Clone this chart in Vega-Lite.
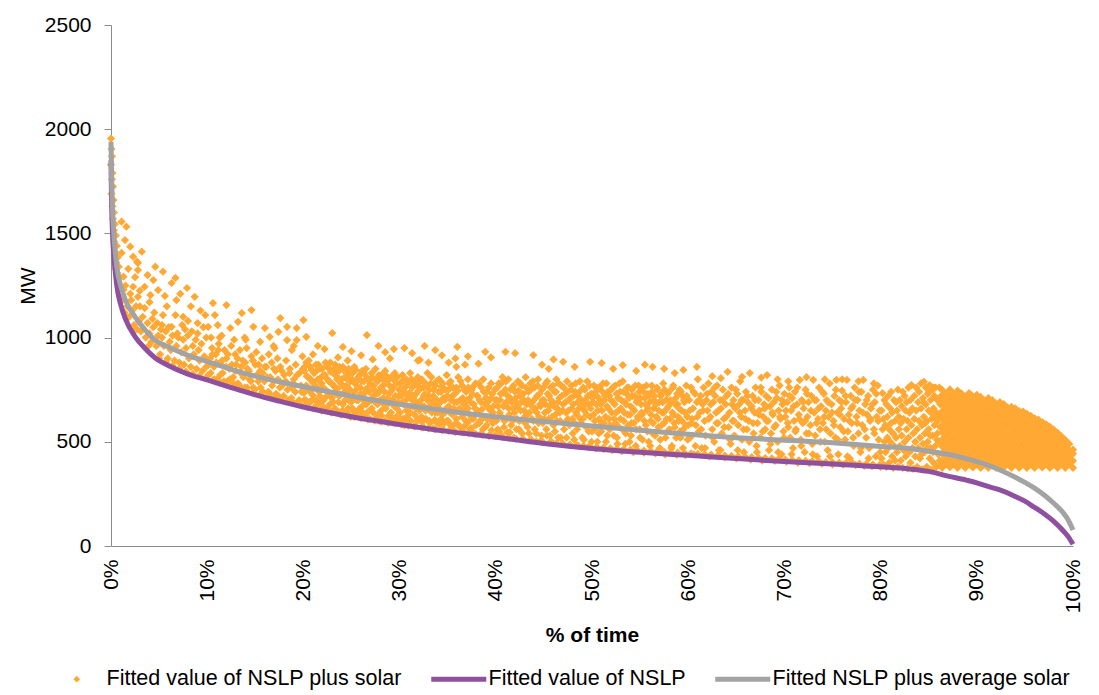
{
"$schema":"https://vega.github.io/schema/vega-lite/v6.json",
"width":962,"height":521,
"autosize":{"type":"none"},
"padding":{"left":111,"top":25,"right":26,"bottom":149},
"config":{"font":"Liberation Sans","view":{"stroke":null},
 "axis":{"domainColor":"#8c8c8c","tickColor":"#8c8c8c","labelColor":"#000","titleColor":"#000","labelFontSize":21,"titleFontSize":21,"grid":false,"labelFont":"Liberation Sans","titleFont":"Liberation Sans"}},
"datasets":{
"pts":[
{"t":0,"v":1955},{"t":0.05,"v":1905},{"t":0.1,"v":1870},{"t":0,"v":1830},{"t":0.15,"v":1790},{"t":0.1,"v":1760},{"t":0.2,"v":1725},{"t":0.05,"v":1690},{"t":0.25,"v":1660},{"t":0.15,"v":1630},{"t":0.3,"v":1600},{"t":0.2,"v":1570},{"t":0.4,"v":1545},{"t":0.3,"v":1515},{"t":0.5,"v":1490},{"t":0.35,"v":1460},{"t":0.6,"v":1440},{"t":0.45,"v":1410},{"t":0.7,"v":1385},{"t":0.55,"v":1360},{"t":0.8,"v":1340},{"t":0.65,"v":1310},{"t":0.9,"v":1290},{"t":0.75,"v":1265},{"t":0.95,"v":1240},{"t":0.85,"v":1215},{"t":0.5,"v":1330},{"t":0.7,"v":1280},{"t":0.9,"v":1200},{"t":1.0,"v":1180},
{"t":1.1,"v":1556},{"t":1.6,"v":1532},{"t":1.45,"v":1468},{"t":2.0,"v":1436},{"t":3.2,"v":1412},{"t":2.3,"v":1388},{"t":2.8,"v":1358},{"t":4.6,"v":1340},{"t":1.1,"v":1406},{"t":1.3,"v":1292},{"t":2.7,"v":1364},{"t":2.8,"v":1324},{"t":5.4,"v":1316},{"t":4.4,"v":1276},{"t":2.3,"v":1244},{"t":3.5,"v":1244},{"t":4.9,"v":1228},{"t":2.8,"v":1196},{"t":4.1,"v":1204},{"t":3.5,"v":1142},{"t":1.8,"v":1330},{"t":3.8,"v":1300},{"t":1.5,"v":1250},{"t":2.5,"v":1290},{"t":4.0,"v":1170},{"t":3.0,"v":1225},{"t":4.5,"v":1120},{"t":2.0,"v":1210},
{"t":1.2,"v":1180},{"t":1.4,"v":1120},{"t":1.7,"v":1150},{"t":1.9,"v":1100},{"t":2.2,"v":1130},{"t":2.4,"v":1060},{"t":2.6,"v":1150},{"t":2.9,"v":1080},{"t":3.1,"v":1030},{"t":3.3,"v":1100},{"t":3.6,"v":1000},{"t":3.8,"v":1070},{"t":4.0,"v":1020},{"t":4.2,"v":980},{"t":4.4,"v":1050},{"t":4.7,"v":960},{"t":4.9,"v":1010},{"t":1.3,"v":1230},{"t":2.1,"v":1180},{"t":3.0,"v":1150},{"t":4.3,"v":1090},{"t":4.8,"v":1070},{"t":2.7,"v":1040},{"t":3.9,"v":960},{"t":1.6,"v":1100},{"t":2.3,"v":1030},
{"t":6.7,"v":1286},{"t":6.3,"v":1262},{"t":7.9,"v":1238},{"t":6.8,"v":1180},{"t":8.7,"v":1196},{"t":5.4,"v":1108},{"t":6.7,"v":1108},{"t":7.5,"v":1100},{"t":9.8,"v":1108},{"t":5.3,"v":1060},{"t":6.3,"v":1052},{"t":5.8,"v":1150},{"t":7.2,"v":1210},{"t":8.3,"v":1150},{"t":9.3,"v":1130},{"t":9.0,"v":1070},{"t":8.0,"v":1080},{"t":5.6,"v":1200},{"t":9.6,"v":1050},{"t":7.7,"v":1040},
{"t":5.1,"v":920},{"t":5.3,"v":1000},{"t":5.5,"v":960},{"t":5.7,"v":1030},{"t":5.9,"v":900},{"t":6.1,"v":980},{"t":6.2,"v":940},{"t":6.4,"v":1010},{"t":6.6,"v":890},{"t":6.8,"v":960},{"t":7.0,"v":1000},{"t":7.1,"v":880},{"t":7.3,"v":930},{"t":7.5,"v":990},{"t":7.6,"v":870},{"t":7.8,"v":950},{"t":8.0,"v":1010},{"t":8.1,"v":900},{"t":8.3,"v":860},{"t":8.5,"v":960},{"t":8.6,"v":920},{"t":8.8,"v":990},{"t":8.9,"v":850},{"t":9.1,"v":940},{"t":9.2,"v":890},{"t":9.4,"v":970},{"t":9.5,"v":840},{"t":9.7,"v":910},{"t":9.9,"v":1000},{"t":9.9,"v":860},{"t":6.0,"v":1050},{"t":7.4,"v":1060},{"t":8.4,"v":1030},{"t":9.0,"v":1020},{"t":5.2,"v":1040},{"t":6.9,"v":1020},
{"t":5.0,"v":900},{"t":5.7,"v":883},{"t":6.4,"v":865},{"t":7.1,"v":851},{"t":7.8,"v":837},{"t":8.5,"v":826},{"t":9.2,"v":816},{"t":9.9,"v":806},{"t":10.6,"v":796},{"t":11.3,"v":787},{"t":12.0,"v":775},{"t":12.7,"v":765},{"t":13.4,"v":755},{"t":14.1,"v":745},{"t":14.8,"v":736},{"t":15.5,"v":727},{"t":16.2,"v":719},{"t":16.9,"v":710},{"t":17.6,"v":702},{"t":18.3,"v":694},{"t":19.0,"v":686},{"t":19.7,"v":678},
{"t":10.6,"v":1166},{"t":12.0,"v":1156},{"t":13.6,"v":1118},{"t":14.6,"v":1132},{"t":17.6,"v":1094},{"t":10.8,"v":1108},{"t":10.1,"v":1052},{"t":11.1,"v":1060},{"t":12.4,"v":1046},{"t":13.2,"v":1076},{"t":14.8,"v":1052},{"t":16.0,"v":1046},{"t":17.4,"v":1028},{"t":19.3,"v":1046},{"t":18.3,"v":1052},{"t":16.5,"v":1004},{"t":19.3,"v":988},{"t":18.3,"v":988},{"t":20.0,"v":1084},{"t":11.5,"v":1010},{"t":12.8,"v":990},{"t":15.5,"v":980},{"t":13.9,"v":1000},{"t":16.9,"v":960},{"t":18.8,"v":940},{"t":10.4,"v":1000},
{"t":10.1,"v":820},{"t":10.3,"v":900},{"t":10.5,"v":950},{"t":10.7,"v":860},{"t":10.9,"v":920},{"t":11.0,"v":800},{"t":11.2,"v":970},{"t":11.4,"v":880},{"t":11.6,"v":830},{"t":11.8,"v":940},{"t":12.0,"v":900},{"t":12.1,"v":790},{"t":12.3,"v":850},{"t":12.5,"v":960},{"t":12.7,"v":810},{"t":12.9,"v":920},{"t":13.0,"v":870},{"t":13.2,"v":780},{"t":13.4,"v":940},{"t":13.5,"v":830},{"t":13.7,"v":890},{"t":13.9,"v":760},{"t":14.1,"v":950},{"t":14.2,"v":850},{"t":14.4,"v":800},{"t":14.6,"v":910},{"t":14.8,"v":760},{"t":15.0,"v":870},{"t":15.1,"v":930},{"t":15.3,"v":790},{"t":15.5,"v":840},{"t":15.7,"v":900},{"t":15.8,"v":740},{"t":16.0,"v":860},{"t":16.2,"v":810},{"t":16.4,"v":920},{"t":16.5,"v":730},{"t":16.7,"v":880},{"t":16.9,"v":790},{"t":17.1,"v":840},{"t":17.3,"v":900},{"t":17.4,"v":720},{"t":17.6,"v":860},{"t":17.8,"v":770},{"t":18.0,"v":820},{"t":18.2,"v":890},{"t":18.4,"v":700},{"t":18.6,"v":850},{"t":18.8,"v":760},{"t":19.0,"v":800},{"t":19.2,"v":870},{"t":19.4,"v":690},{"t":19.6,"v":830},{"t":19.8,"v":740},{"t":19.9,"v":910},{"t":11.3,"v":1000},{"t":14.0,"v":990},{"t":17.0,"v":950},{"t":19.0,"v":960},
{"t":10.15,"v":870},{"t":10.35,"v":830},{"t":10.55,"v":920},{"t":10.75,"v":800},{"t":10.95,"v":880},{"t":11.15,"v":940},{"t":11.35,"v":820},{"t":11.55,"v":890},{"t":11.75,"v":790},{"t":11.95,"v":860},{"t":12.15,"v":920},{"t":12.35,"v":800},{"t":12.55,"v":870},{"t":12.75,"v":780},{"t":12.95,"v":840},{"t":13.15,"v":900},{"t":13.35,"v":770},{"t":13.55,"v":860},{"t":13.75,"v":810},{"t":13.95,"v":880},{"t":14.15,"v":760},{"t":14.35,"v":840},{"t":14.55,"v":790},{"t":14.75,"v":890},{"t":14.95,"v":750},{"t":15.15,"v":820},{"t":15.35,"v":870},{"t":15.55,"v":760},{"t":15.75,"v":830},{"t":15.95,"v":790},{"t":16.15,"v":860},{"t":16.35,"v":740},{"t":16.55,"v":810},{"t":16.75,"v":770},{"t":16.95,"v":850},{"t":17.15,"v":730},{"t":17.35,"v":800},{"t":17.55,"v":760},{"t":17.75,"v":840},{"t":17.95,"v":720},{"t":18.15,"v":790},{"t":18.35,"v":750},{"t":18.55,"v":830},{"t":18.75,"v":710},{"t":18.95,"v":780},{"t":19.15,"v":740},{"t":19.35,"v":820},{"t":19.55,"v":700},{"t":19.75,"v":770},{"t":19.95,"v":850},
{"t":20.3,"v":1004},{"t":23.0,"v":1022},{"t":26.6,"v":1012},{"t":21.5,"v":960},{"t":22.2,"v":945},{"t":24.1,"v":955},{"t":25.0,"v":935},{"t":27.8,"v":960},{"t":28.5,"v":930},{"t":29.4,"v":945},{"t":21.0,"v":920},{"t":23.6,"v":905},{"t":26.0,"v":915},{"t":27.2,"v":895},{"t":29.0,"v":900},{"t":24.6,"v":890},{"t":22.8,"v":880},
{"t":20.1,"v":700},{"t":20.1,"v":840},{"t":20.3,"v":770},{"t":20.3,"v":880},{"t":20.5,"v":680},{"t":20.5,"v":810},{"t":20.7,"v":740},{"t":20.7,"v":860},{"t":20.9,"v":790},{"t":20.9,"v":700},{"t":21.1,"v":830},{"t":21.1,"v":660},{"t":21.3,"v":760},{"t":21.3,"v":870},{"t":21.5,"v":690},{"t":21.5,"v":800},{"t":21.7,"v":850},{"t":21.7,"v":720},{"t":21.9,"v":650},{"t":21.9,"v":780},{"t":22.1,"v":820},{"t":22.1,"v":700},{"t":22.3,"v":750},{"t":22.3,"v":880},{"t":22.5,"v":660},{"t":22.5,"v":800},{"t":22.7,"v":730},{"t":22.7,"v":850},{"t":22.9,"v":780},{"t":22.9,"v":640},{"t":23.1,"v":690},{"t":23.1,"v":830},{"t":23.3,"v":760},{"t":23.3,"v":870},{"t":23.5,"v":650},{"t":23.5,"v":800},{"t":23.7,"v":720},{"t":23.7,"v":840},{"t":23.9,"v":780},{"t":23.9,"v":630},{"t":24.1,"v":680},{"t":24.1,"v":860},{"t":24.3,"v":740},{"t":24.3,"v":810},{"t":24.5,"v":640},{"t":24.5,"v":770},{"t":24.7,"v":700},{"t":24.7,"v":850},{"t":24.9,"v":790},{"t":24.9,"v":620},{"t":25.1,"v":660},{"t":25.1,"v":830},{"t":25.3,"v":740},{"t":25.3,"v":860},{"t":25.5,"v":630},{"t":25.5,"v":790},{"t":25.7,"v":700},{"t":25.7,"v":810},{"t":25.9,"v":760},{"t":25.9,"v":620},{"t":26.1,"v":670},{"t":26.1,"v":840},{"t":26.3,"v":730},{"t":26.3,"v":790},{"t":26.5,"v":620},{"t":26.5,"v":850},{"t":26.7,"v":690},{"t":26.7,"v":760},{"t":26.9,"v":800},{"t":26.9,"v":610},{"t":27.1,"v":660},{"t":27.1,"v":830},{"t":27.3,"v":720},{"t":27.3,"v":770},{"t":27.5,"v":610},{"t":27.5,"v":850},{"t":27.7,"v":680},{"t":27.7,"v":790},{"t":27.9,"v":740},{"t":27.9,"v":600},{"t":28.1,"v":650},{"t":28.1,"v":820},{"t":28.3,"v":710},{"t":28.3,"v":770},{"t":28.5,"v":600},{"t":28.5,"v":840},{"t":28.7,"v":680},{"t":28.7,"v":790},{"t":28.9,"v":730},{"t":28.9,"v":595},{"t":29.1,"v":640},{"t":29.1,"v":810},{"t":29.3,"v":700},{"t":29.3,"v":760},{"t":29.5,"v":590},{"t":29.5,"v":830},{"t":29.7,"v":660},{"t":29.7,"v":780},{"t":29.9,"v":720},{"t":29.9,"v":600},
{"t":20.05,"v":735},{"t":20.15,"v":860},{"t":20.25,"v":700},{"t":20.35,"v":815},{"t":20.45,"v":755},{"t":20.55,"v":890},{"t":20.65,"v":690},{"t":20.75,"v":800},{"t":20.85,"v":845},{"t":20.95,"v":725},{"t":21.05,"v":780},{"t":21.15,"v":705},{"t":21.25,"v":835},{"t":21.35,"v":675},{"t":21.45,"v":760},{"t":21.55,"v":870},{"t":21.65,"v":740},{"t":21.75,"v":805},{"t":21.85,"v":690},{"t":21.95,"v":850},{"t":22.05,"v":760},{"t":22.15,"v":665},{"t":22.25,"v":820},{"t":22.35,"v":715},{"t":22.45,"v":865},{"t":22.55,"v":740},{"t":22.65,"v":790},{"t":22.75,"v":680},{"t":22.85,"v":835},{"t":22.95,"v":710},{"t":23.05,"v":775},{"t":23.15,"v":850},{"t":23.25,"v":660},{"t":23.35,"v":730},{"t":23.45,"v":815},{"t":23.55,"v":755},{"t":23.65,"v":690},{"t":23.75,"v":860},{"t":23.85,"v":725},{"t":23.95,"v":800},{"t":24.05,"v":650},{"t":24.15,"v":765},{"t":24.25,"v":840},{"t":24.35,"v":700},{"t":24.45,"v":805},{"t":24.55,"v":735},{"t":24.65,"v":660},{"t":24.75,"v":825},{"t":24.85,"v":750},{"t":24.95,"v":690},{"t":25.05,"v":800},{"t":25.15,"v":715},{"t":25.25,"v":645},{"t":25.35,"v":780},{"t":25.45,"v":845},{"t":25.55,"v":700},{"t":25.65,"v":760},{"t":25.75,"v":655},{"t":25.85,"v":820},{"t":25.95,"v":730},{"t":26.05,"v":790},{"t":26.15,"v":640},{"t":26.25,"v":700},{"t":26.35,"v":825},{"t":26.45,"v":750},{"t":26.55,"v":680},{"t":26.65,"v":805},{"t":26.75,"v":645},{"t":26.85,"v":740},{"t":26.95,"v":780},{"t":27.05,"v":700},{"t":27.15,"v":810},{"t":27.25,"v":640},{"t":27.35,"v":750},{"t":27.45,"v":690},{"t":27.55,"v":800},{"t":27.65,"v":730},{"t":27.75,"v":630},{"t":27.85,"v":820},{"t":27.95,"v":700},{"t":28.05,"v":760},{"t":28.15,"v":625},{"t":28.25,"v":800},{"t":28.35,"v":680},{"t":28.45,"v":740},{"t":28.55,"v":660},{"t":28.65,"v":815},{"t":28.75,"v":710},{"t":28.85,"v":625},{"t":28.95,"v":770},{"t":29.05,"v":690},{"t":29.15,"v":745},{"t":29.25,"v":615},{"t":29.35,"v":800},{"t":29.45,"v":670},{"t":29.55,"v":720},{"t":29.65,"v":620},{"t":29.75,"v":810},{"t":29.85,"v":690},{"t":29.95,"v":750},
{"t":30.5,"v":950},{"t":31.3,"v":925},{"t":32.6,"v":960},{"t":33.7,"v":940},{"t":34.4,"v":915},{"t":35.8,"v":900},{"t":36.0,"v":956},{"t":37.1,"v":910},{"t":38.9,"v":932},{"t":39.5,"v":905},{"t":31.9,"v":890},{"t":33.0,"v":880},{"t":35.1,"v":880},{"t":36.8,"v":870},{"t":38.2,"v":875},{"t":32.1,"v":893},{"t":35.9,"v":860},
{"t":30.1,"v":610},{"t":30.1,"v":780},{"t":30.3,"v":690},{"t":30.3,"v":820},{"t":30.5,"v":580},{"t":30.5,"v":740},{"t":30.7,"v":650},{"t":30.7,"v":800},{"t":30.9,"v":720},{"t":30.9,"v":600},{"t":31.1,"v":640},{"t":31.1,"v":830},{"t":31.3,"v":700},{"t":31.3,"v":760},{"t":31.5,"v":575},{"t":31.5,"v":790},{"t":31.7,"v":660},{"t":31.7,"v":730},{"t":31.9,"v":810},{"t":31.9,"v":610},{"t":32.1,"v":680},{"t":32.1,"v":760},{"t":32.3,"v":620},{"t":32.3,"v":800},{"t":32.5,"v":570},{"t":32.5,"v":720},{"t":32.7,"v":650},{"t":32.7,"v":780},{"t":32.9,"v":700},{"t":32.9,"v":830},{"t":33.1,"v":600},{"t":33.1,"v":750},{"t":33.3,"v":680},{"t":33.3,"v":810},{"t":33.5,"v":565},{"t":33.5,"v":720},{"t":33.7,"v":640},{"t":33.7,"v":770},{"t":33.9,"v":700},{"t":33.9,"v":590},{"t":34.1,"v":660},{"t":34.1,"v":800},{"t":34.3,"v":610},{"t":34.3,"v":740},{"t":34.5,"v":560},{"t":34.5,"v":780},{"t":34.7,"v":640},{"t":34.7,"v":700},{"t":34.9,"v":820},{"t":34.9,"v":600},{"t":35.1,"v":670},{"t":35.1,"v":750},{"t":35.3,"v":580},{"t":35.3,"v":790},{"t":35.5,"v":630},{"t":35.5,"v":720},{"t":35.7,"v":690},{"t":35.7,"v":550},{"t":35.9,"v":760},{"t":35.9,"v":610},{"t":36.1,"v":650},{"t":36.1,"v":810},{"t":36.3,"v":700},{"t":36.3,"v":570},{"t":36.5,"v":620},{"t":36.5,"v":770},{"t":36.7,"v":545},{"t":36.7,"v":680},{"t":36.9,"v":740},{"t":36.9,"v":600},{"t":37.1,"v":660},{"t":37.1,"v":800},{"t":37.3,"v":710},{"t":37.3,"v":560},{"t":37.5,"v":610},{"t":37.5,"v":750},{"t":37.7,"v":540},{"t":37.7,"v":680},{"t":37.9,"v":780},{"t":37.9,"v":630},{"t":38.1,"v":650},{"t":38.1,"v":720},{"t":38.3,"v":700},{"t":38.3,"v":590},{"t":38.5,"v":540},{"t":38.5,"v":760},{"t":38.7,"v":620},{"t":38.7,"v":800},{"t":38.9,"v":680},{"t":38.9,"v":570},{"t":39.1,"v":740},{"t":39.1,"v":610},{"t":39.3,"v":530},{"t":39.3,"v":660},{"t":39.5,"v":710},{"t":39.5,"v":780},{"t":39.7,"v":590},{"t":39.7,"v":640},{"t":39.9,"v":530},{"t":39.9,"v":750},
{"t":30.05,"v":640},{"t":30.15,"v":720},{"t":30.25,"v":790},{"t":30.35,"v":610},{"t":30.45,"v":680},{"t":30.55,"v":760},{"t":30.65,"v":700},{"t":30.75,"v":620},{"t":30.85,"v":780},{"t":30.95,"v":665},{"t":31.05,"v":735},{"t":31.15,"v":600},{"t":31.25,"v":800},{"t":31.35,"v":670},{"t":31.45,"v":715},{"t":31.55,"v":630},{"t":31.65,"v":775},{"t":31.75,"v":690},{"t":31.85,"v":600},{"t":31.95,"v":745},{"t":32.05,"v":650},{"t":32.15,"v":790},{"t":32.25,"v":700},{"t":32.35,"v":595},{"t":32.45,"v":760},{"t":32.55,"v":670},{"t":32.65,"v":730},{"t":32.75,"v":610},{"t":32.85,"v":770},{"t":32.95,"v":660},{"t":33.05,"v":720},{"t":33.15,"v":590},{"t":33.25,"v":780},{"t":33.35,"v":640},{"t":33.45,"v":700},{"t":33.55,"v":750},{"t":33.65,"v":605},{"t":33.75,"v":680},{"t":33.85,"v":790},{"t":33.95,"v":640},{"t":34.05,"v":740},{"t":34.15,"v":585},{"t":34.25,"v":690},{"t":34.35,"v":765},{"t":34.45,"v":630},{"t":34.55,"v":710},{"t":34.65,"v":590},{"t":34.75,"v":750},{"t":34.85,"v":660},{"t":34.95,"v":720},{"t":35.05,"v":600},{"t":35.15,"v":780},{"t":35.25,"v":640},{"t":35.35,"v":700},{"t":35.45,"v":575},{"t":35.55,"v":760},{"t":35.65,"v":660},{"t":35.75,"v":730},{"t":35.85,"v":590},{"t":35.95,"v":690},{"t":36.05,"v":745},{"t":36.15,"v":580},{"t":36.25,"v":660},{"t":36.35,"v":790},{"t":36.45,"v":640},{"t":36.55,"v":710},{"t":36.65,"v":570},{"t":36.75,"v":750},{"t":36.85,"v":650},{"t":36.95,"v":700},{"t":37.05,"v":590},{"t":37.15,"v":760},{"t":37.25,"v":630},{"t":37.35,"v":690},{"t":37.45,"v":565},{"t":37.55,"v":730},{"t":37.65,"v":610},{"t":37.75,"v":770},{"t":37.85,"v":660},{"t":37.95,"v":580},{"t":38.05,"v":720},{"t":38.15,"v":640},{"t":38.25,"v":780},{"t":38.35,"v":600},{"t":38.45,"v":690},{"t":38.55,"v":655},{"t":38.65,"v":560},{"t":38.75,"v":740},{"t":38.85,"v":620},{"t":38.95,"v":710},{"t":39.05,"v":580},{"t":39.15,"v":690},{"t":39.25,"v":760},{"t":39.35,"v":610},{"t":39.45,"v":650},{"t":39.55,"v":555},{"t":39.65,"v":730},{"t":39.75,"v":670},{"t":39.85,"v":600},{"t":39.95,"v":700},
{"t":20.4,"v":668},{"t":21.8,"v":655},{"t":22.5,"v":648},{"t":23.2,"v":642},{"t":24.6,"v":628},{"t":25.3,"v":620},{"t":26.0,"v":614},{"t":26.7,"v":608},{"t":27.4,"v":602},{"t":28.1,"v":597},{"t":28.8,"v":592},{"t":30.2,"v":583},{"t":30.9,"v":578},{"t":31.6,"v":574},{"t":32.3,"v":569},{"t":33.0,"v":565},{"t":33.7,"v":560},{"t":34.4,"v":556},{"t":35.1,"v":552},{"t":35.8,"v":548},{"t":36.5,"v":545},{"t":37.2,"v":541},{"t":37.9,"v":537},{"t":38.6,"v":533},{"t":39.3,"v":529},{"t":40.0,"v":527},{"t":40.7,"v":522},{"t":41.4,"v":518},{"t":42.1,"v":514},{"t":42.8,"v":510},{"t":43.5,"v":506},{"t":44.2,"v":502},{"t":44.9,"v":499},{"t":45.6,"v":496},{"t":46.3,"v":493},{"t":47.0,"v":490},{"t":47.7,"v":487},{"t":48.4,"v":484},{"t":49.1,"v":481},{"t":49.8,"v":477},{"t":50.5,"v":475},{"t":51.2,"v":472},{"t":51.9,"v":469},{"t":52.6,"v":467},{"t":53.3,"v":464},{"t":54.0,"v":462},{"t":54.7,"v":460},{"t":55.4,"v":458},{"t":56.1,"v":456},{"t":56.8,"v":454},{"t":57.5,"v":452},{"t":58.2,"v":450},{"t":58.9,"v":448},{"t":59.6,"v":446},{"t":60.3,"v":444},{"t":61.0,"v":442},{"t":61.7,"v":440},{"t":62.4,"v":438},{"t":63.1,"v":436},{"t":63.8,"v":434},{"t":64.5,"v":432},{"t":65.2,"v":430},{"t":65.9,"v":428},{"t":66.6,"v":426},{"t":67.3,"v":424},{"t":68.0,"v":422},{"t":68.7,"v":420},{"t":69.4,"v":418},{"t":70.1,"v":415},{"t":70.8,"v":413},{"t":71.5,"v":411},{"t":72.2,"v":409},{"t":72.9,"v":407},{"t":73.6,"v":405},{"t":74.3,"v":403},{"t":75.0,"v":401},{"t":75.7,"v":400},{"t":76.4,"v":398},{"t":77.1,"v":396},{"t":77.8,"v":395},{"t":78.5,"v":393},{"t":79.2,"v":391},{"t":79.9,"v":389},
{"t":41.0,"v":932},{"t":42.0,"v":925},{"t":43.9,"v":916},{"t":47.0,"v":884},{"t":49.8,"v":884},{"t":51.0,"v":878},{"t":53.2,"v":868},{"t":56.3,"v":860},{"t":58.6,"v":830},{"t":60.9,"v":860},{"t":44.8,"v":870},{"t":46.0,"v":895},{"t":48.2,"v":860},{"t":52.2,"v":850},{"t":54.6,"v":840},{"t":57.5,"v":850},{"t":59.5,"v":845},{"t":45.5,"v":850},{"t":55.5,"v":870},
{"t":40.1,"v":700},{"t":40.2,"v":560},{"t":40.3,"v":780},{"t":40.4,"v":640},{"t":40.5,"v":730},{"t":40.6,"v":530},{"t":40.7,"v":810},{"t":40.8,"v":670},{"t":40.9,"v":600},{"t":41.0,"v":750},{"t":41.1,"v":690},{"t":41.2,"v":545},{"t":41.3,"v":800},{"t":41.4,"v":630},{"t":41.5,"v":710},{"t":41.6,"v":580},{"t":41.7,"v":760},{"t":41.8,"v":660},{"t":41.9,"v":520},{"t":42.0,"v":740},{"t":42.1,"v":690},{"t":42.2,"v":610},{"t":42.3,"v":790},{"t":42.4,"v":560},{"t":42.5,"v":720},{"t":42.6,"v":650},{"t":42.7,"v":770},{"t":42.8,"v":515},{"t":42.9,"v":700},{"t":43.0,"v":620},{"t":43.1,"v":810},{"t":43.2,"v":680},{"t":43.3,"v":570},{"t":43.4,"v":740},{"t":43.5,"v":640},{"t":43.6,"v":780},{"t":43.7,"v":510},{"t":43.8,"v":690},{"t":43.9,"v":600},{"t":44.0,"v":760},{"t":44.1,"v":660},{"t":44.2,"v":540},{"t":44.3,"v":720},{"t":44.4,"v":800},{"t":44.5,"v":620},{"t":44.6,"v":680},{"t":44.7,"v":505},{"t":44.8,"v":750},{"t":44.9,"v":590},{"t":45.0,"v":700},{"t":45.1,"v":640},{"t":45.2,"v":780},{"t":45.3,"v":530},{"t":45.4,"v":730},{"t":45.5,"v":610},{"t":45.6,"v":670},{"t":45.7,"v":760},{"t":45.8,"v":500},{"t":45.9,"v":690},{"t":46.0,"v":580},{"t":46.1,"v":740},{"t":46.2,"v":630},{"t":46.3,"v":800},{"t":46.4,"v":660},{"t":46.5,"v":520},{"t":46.6,"v":710},{"t":46.7,"v":600},{"t":46.8,"v":770},{"t":46.9,"v":490},{"t":47.0,"v":680},{"t":47.1,"v":560},{"t":47.2,"v":730},{"t":47.3,"v":640},{"t":47.4,"v":790},{"t":47.5,"v":610},{"t":47.6,"v":700},{"t":47.7,"v":485},{"t":47.8,"v":750},{"t":47.9,"v":660},{"t":48.0,"v":540},{"t":48.1,"v":720},{"t":48.2,"v":590},{"t":48.3,"v":780},{"t":48.4,"v":630},{"t":48.5,"v":690},{"t":48.6,"v":480},{"t":48.7,"v":740},{"t":48.8,"v":610},{"t":48.9,"v":670},{"t":49.0,"v":520},{"t":49.1,"v":760},{"t":49.2,"v":650},{"t":49.3,"v":700},{"t":49.4,"v":570},{"t":49.5,"v":790},{"t":49.6,"v":475},{"t":49.7,"v":680},{"t":49.8,"v":620},{"t":49.9,"v":730},{"t":50.0,"v":550},
{"t":50.1,"v":690},{"t":50.2,"v":770},{"t":50.3,"v":600},{"t":50.4,"v":470},{"t":50.5,"v":720},{"t":50.6,"v":650},{"t":50.7,"v":540},{"t":50.8,"v":760},{"t":50.9,"v":680},{"t":51.0,"v":590},{"t":51.1,"v":740},{"t":51.2,"v":465},{"t":51.3,"v":700},{"t":51.4,"v":620},{"t":51.5,"v":780},{"t":51.6,"v":530},{"t":51.7,"v":660},{"t":51.8,"v":720},{"t":51.9,"v":580},{"t":52.0,"v":750},{"t":52.1,"v":460},{"t":52.2,"v":690},{"t":52.3,"v":610},{"t":52.4,"v":770},{"t":52.5,"v":640},{"t":52.6,"v":520},{"t":52.7,"v":710},{"t":52.8,"v":570},{"t":52.9,"v":740},{"t":53.0,"v":660},{"t":53.1,"v":455},{"t":53.2,"v":790},{"t":53.3,"v":600},{"t":53.4,"v":690},{"t":53.5,"v":540},{"t":53.6,"v":730},{"t":53.7,"v":630},{"t":53.8,"v":760},{"t":53.9,"v":500},{"t":54.0,"v":670},{"t":54.1,"v":590},{"t":54.2,"v":720},{"t":54.3,"v":450},{"t":54.4,"v":650},{"t":54.5,"v":770},{"t":54.6,"v":560},{"t":54.7,"v":700},{"t":54.8,"v":610},{"t":54.9,"v":740},{"t":55.0,"v":520},{"t":55.1,"v":680},{"t":55.2,"v":630},{"t":55.3,"v":760},{"t":55.4,"v":448},{"t":55.5,"v":710},{"t":55.6,"v":580},{"t":55.7,"v":650},{"t":55.8,"v":730},{"t":55.9,"v":500},{"t":56.0,"v":690},{"t":56.1,"v":600},{"t":56.2,"v":770},{"t":56.3,"v":540},{"t":56.4,"v":660},{"t":56.5,"v":720},{"t":56.6,"v":445},{"t":56.7,"v":620},{"t":56.8,"v":750},{"t":56.9,"v":570},{"t":57.0,"v":690},{"t":57.1,"v":510},{"t":57.2,"v":730},{"t":57.3,"v":640},{"t":57.4,"v":780},{"t":57.5,"v":590},{"t":57.6,"v":440},{"t":57.7,"v":700},{"t":57.8,"v":660},{"t":57.9,"v":550},{"t":58.0,"v":740},{"t":58.1,"v":610},{"t":58.2,"v":690},{"t":58.3,"v":480},{"t":58.4,"v":760},{"t":58.5,"v":630},{"t":58.6,"v":570},{"t":58.7,"v":710},{"t":58.8,"v":438},{"t":58.9,"v":680},{"t":59.0,"v":600},{"t":59.1,"v":750},{"t":59.2,"v":520},{"t":59.3,"v":650},{"t":59.4,"v":720},{"t":59.5,"v":560},{"t":59.6,"v":690},{"t":59.7,"v":436},{"t":59.8,"v":770},{"t":59.9,"v":620},{"t":60.0,"v":580},
{"t":40.05,"v":600},{"t":40.15,"v":760},{"t":40.25,"v":670},{"t":40.35,"v":550},{"t":40.45,"v":700},{"t":40.55,"v":780},{"t":40.65,"v":620},{"t":40.75,"v":735},{"t":40.85,"v":570},{"t":40.95,"v":680},{"t":41.05,"v":790},{"t":41.15,"v":610},{"t":41.25,"v":720},{"t":41.35,"v":660},{"t":41.45,"v":545},{"t":41.55,"v":750},{"t":41.65,"v":690},{"t":41.75,"v":600},{"t":41.85,"v":770},{"t":41.95,"v":640},{"t":42.05,"v":710},{"t":42.15,"v":560},{"t":42.25,"v":670},{"t":42.35,"v":745},{"t":42.45,"v":600},{"t":42.55,"v":780},{"t":42.65,"v":690},{"t":42.75,"v":540},{"t":42.85,"v":730},{"t":42.95,"v":650},{"t":43.05,"v":590},{"t":43.15,"v":760},{"t":43.25,"v":630},{"t":43.35,"v":700},{"t":43.45,"v":540},{"t":43.55,"v":680},{"t":43.65,"v":750},{"t":43.75,"v":610},{"t":43.85,"v":790},{"t":43.95,"v":660},{"t":44.05,"v":560},{"t":44.15,"v":710},{"t":44.25,"v":640},{"t":44.35,"v":770},{"t":44.45,"v":590},{"t":44.55,"v":730},{"t":44.65,"v":670},{"t":44.75,"v":530},{"t":44.85,"v":700},{"t":44.95,"v":760},{"t":45.05,"v":610},{"t":45.15,"v":680},{"t":45.25,"v":560},{"t":45.35,"v":790},{"t":45.45,"v":650},{"t":45.55,"v":720},{"t":45.65,"v":530},{"t":45.75,"v":700},{"t":45.85,"v":620},{"t":45.95,"v":770},{"t":46.05,"v":670},{"t":46.15,"v":550},{"t":46.25,"v":740},{"t":46.35,"v":600},{"t":46.45,"v":690},{"t":46.55,"v":780},{"t":46.65,"v":640},{"t":46.75,"v":520},{"t":46.85,"v":720},{"t":46.95,"v":650},{"t":47.05,"v":760},{"t":47.15,"v":590},{"t":47.25,"v":690},{"t":47.35,"v":520},{"t":47.45,"v":740},{"t":47.55,"v":650},{"t":47.65,"v":580},{"t":47.75,"v":710},{"t":47.85,"v":770},{"t":47.95,"v":610},{"t":48.05,"v":680},{"t":48.15,"v":510},{"t":48.25,"v":740},{"t":48.35,"v":640},{"t":48.45,"v":560},{"t":48.55,"v":720},{"t":48.65,"v":660},{"t":48.75,"v":790},{"t":48.85,"v":590},{"t":48.95,"v":700},{"t":49.05,"v":610},{"t":49.15,"v":510},{"t":49.25,"v":750},{"t":49.35,"v":680},{"t":49.45,"v":630},{"t":49.55,"v":720},{"t":49.65,"v":550},{"t":49.75,"v":770},{"t":49.85,"v":660},{"t":49.95,"v":500},
{"t":50.05,"v":710},{"t":50.15,"v":630},{"t":50.25,"v":560},{"t":50.35,"v":740},{"t":50.45,"v":680},{"t":50.55,"v":500},{"t":50.65,"v":760},{"t":50.75,"v":610},{"t":50.85,"v":700},{"t":50.95,"v":550},{"t":51.05,"v":650},{"t":51.15,"v":780},{"t":51.25,"v":590},{"t":51.35,"v":720},{"t":51.45,"v":500},{"t":51.55,"v":670},{"t":51.65,"v":740},{"t":51.75,"v":610},{"t":51.85,"v":560},{"t":51.95,"v":700},{"t":52.05,"v":640},{"t":52.15,"v":760},{"t":52.25,"v":530},{"t":52.35,"v":680},{"t":52.45,"v":590},{"t":52.55,"v":730},{"t":52.65,"v":490},{"t":52.75,"v":650},{"t":52.85,"v":780},{"t":52.95,"v":610},{"t":53.05,"v":700},{"t":53.15,"v":560},{"t":53.25,"v":740},{"t":53.35,"v":640},{"t":53.45,"v":490},{"t":53.55,"v":680},{"t":53.65,"v":760},{"t":53.75,"v":580},{"t":53.85,"v":710},{"t":53.95,"v":630},{"t":54.05,"v":530},{"t":54.15,"v":750},{"t":54.25,"v":660},{"t":54.35,"v":590},{"t":54.45,"v":720},{"t":54.55,"v":480},{"t":54.65,"v":690},{"t":54.75,"v":620},{"t":54.85,"v":770},{"t":54.95,"v":560},{"t":55.05,"v":710},{"t":55.15,"v":640},{"t":55.25,"v":510},{"t":55.35,"v":740},{"t":55.45,"v":600},{"t":55.55,"v":680},{"t":55.65,"v":770},{"t":55.75,"v":550},{"t":55.85,"v":660},{"t":55.95,"v":720},{"t":56.05,"v":480},{"t":56.15,"v":630},{"t":56.25,"v":740},{"t":56.35,"v":590},{"t":56.45,"v":700},{"t":56.55,"v":530},{"t":56.65,"v":680},{"t":56.75,"v":760},{"t":56.85,"v":610},{"t":56.95,"v":650},{"t":57.05,"v":470},{"t":57.15,"v":720},{"t":57.25,"v":580},{"t":57.35,"v":690},{"t":57.45,"v":640},{"t":57.55,"v":750},{"t":57.65,"v":520},{"t":57.75,"v":610},{"t":57.85,"v":730},{"t":57.95,"v":670},{"t":58.05,"v":560},{"t":58.15,"v":700},{"t":58.25,"v":470},{"t":58.35,"v":640},{"t":58.45,"v":770},{"t":58.55,"v":590},{"t":58.65,"v":680},{"t":58.75,"v":520},{"t":58.85,"v":730},{"t":58.95,"v":620},{"t":59.05,"v":660},{"t":59.15,"v":550},{"t":59.25,"v":740},{"t":59.35,"v":600},{"t":59.45,"v":470},{"t":59.55,"v":700},{"t":59.65,"v":640},{"t":59.75,"v":580},{"t":59.85,"v":720},{"t":59.95,"v":510},
{"t":62.5,"v":815},{"t":63.4,"v":805},{"t":65.6,"v":812},{"t":67.6,"v":808},{"t":69.3,"v":800},{"t":70.4,"v":790},{"t":72.3,"v":810},{"t":74.2,"v":800},{"t":76.0,"v":800},{"t":77.7,"v":790},{"t":79.3,"v":780},
{"t":60.1,"v":700},{"t":60.2,"v":520},{"t":60.3,"v":760},{"t":60.4,"v":610},{"t":60.5,"v":660},{"t":60.6,"v":440},{"t":60.7,"v":730},{"t":60.8,"v":580},{"t":60.9,"v":690},{"t":61.0,"v":800},{"t":61.1,"v":550},{"t":61.2,"v":640},{"t":61.3,"v":720},{"t":61.4,"v":470},{"t":61.5,"v":680},{"t":61.6,"v":760},{"t":61.7,"v":600},{"t":61.8,"v":530},{"t":61.9,"v":700},{"t":62.0,"v":650},{"t":62.1,"v":780},{"t":62.2,"v":430},{"t":62.3,"v":620},{"t":62.4,"v":740},{"t":62.5,"v":560},{"t":62.6,"v":690},{"t":62.7,"v":500},{"t":62.8,"v":720},{"t":62.9,"v":640},{"t":63.0,"v":770},{"t":63.1,"v":590},{"t":63.2,"v":460},{"t":63.3,"v":700},{"t":63.4,"v":660},{"t":63.5,"v":540},{"t":63.6,"v":750},{"t":63.7,"v":610},{"t":63.8,"v":425},{"t":63.9,"v":680},{"t":64.0,"v":720},{"t":64.1,"v":836},{"t":64.2,"v":570},{"t":64.3,"v":640},{"t":64.4,"v":490},{"t":64.5,"v":760},{"t":64.6,"v":600},{"t":64.7,"v":700},{"t":64.8,"v":530},{"t":64.9,"v":660},{"t":65.0,"v":420},{"t":65.1,"v":730},{"t":65.2,"v":580},{"t":65.3,"v":680},{"t":65.4,"v":790},{"t":65.5,"v":620},{"t":65.6,"v":510},{"t":65.7,"v":700},{"t":65.8,"v":450},{"t":65.9,"v":650},{"t":66.0,"v":740},{"t":66.1,"v":560},{"t":66.2,"v":690},{"t":66.3,"v":600},{"t":66.4,"v":830},{"t":66.5,"v":415},{"t":66.6,"v":670},{"t":66.7,"v":720},{"t":66.8,"v":540},{"t":66.9,"v":640},{"t":67.0,"v":760},{"t":67.1,"v":480},{"t":67.2,"v":590},{"t":67.3,"v":700},{"t":67.4,"v":650},{"t":67.5,"v":520},{"t":67.6,"v":740},{"t":67.7,"v":410},{"t":67.8,"v":620},{"t":67.9,"v":680},{"t":68.0,"v":560},{"t":68.1,"v":720},{"t":68.2,"v":820},{"t":68.3,"v":600},{"t":68.4,"v":460},{"t":68.5,"v":670},{"t":68.6,"v":540},{"t":68.7,"v":750},{"t":68.8,"v":630},{"t":68.9,"v":690},{"t":69.0,"v":408},{"t":69.1,"v":580},{"t":69.2,"v":710},{"t":69.3,"v":500},{"t":69.4,"v":650},{"t":69.5,"v":770},{"t":69.6,"v":610},{"t":69.7,"v":440},{"t":69.8,"v":680},{"t":69.9,"v":550},{"t":70.0,"v":730},
{"t":70.1,"v":620},{"t":70.2,"v":405},{"t":70.3,"v":690},{"t":70.4,"v":570},{"t":70.5,"v":760},{"t":70.6,"v":520},{"t":70.7,"v":650},{"t":70.8,"v":710},{"t":70.9,"v":470},{"t":71.0,"v":600},{"t":71.1,"v":740},{"t":71.2,"v":560},{"t":71.3,"v":680},{"t":71.4,"v":400},{"t":71.5,"v":630},{"t":71.6,"v":797},{"t":71.7,"v":510},{"t":71.8,"v":700},{"t":71.9,"v":590},{"t":72.0,"v":660},{"t":72.1,"v":450},{"t":72.2,"v":750},{"t":72.3,"v":540},{"t":72.4,"v":620},{"t":72.5,"v":690},{"t":72.6,"v":398},{"t":72.7,"v":580},{"t":72.8,"v":720},{"t":72.9,"v":490},{"t":73.0,"v":797},{"t":73.1,"v":640},{"t":73.2,"v":530},{"t":73.3,"v":700},{"t":73.4,"v":430},{"t":73.5,"v":610},{"t":73.6,"v":760},{"t":73.7,"v":560},{"t":73.8,"v":670},{"t":73.9,"v":395},{"t":74.0,"v":590},{"t":74.1,"v":730},{"t":74.2,"v":500},{"t":74.3,"v":650},{"t":74.4,"v":700},{"t":74.5,"v":460},{"t":74.6,"v":620},{"t":74.7,"v":780},{"t":74.8,"v":540},{"t":74.9,"v":680},{"t":75.0,"v":392},{"t":75.1,"v":600},{"t":75.2,"v":720},{"t":75.3,"v":520},{"t":75.4,"v":797},{"t":75.5,"v":640},{"t":75.6,"v":440},{"t":75.7,"v":700},{"t":75.8,"v":570},{"t":75.9,"v":660},{"t":76.0,"v":745},{"t":76.1,"v":390},{"t":76.2,"v":610},{"t":76.3,"v":510},{"t":76.4,"v":690},{"t":76.5,"v":797},{"t":76.6,"v":550},{"t":76.7,"v":630},{"t":76.8,"v":420},{"t":76.9,"v":720},{"t":77.0,"v":590},{"t":77.1,"v":670},{"t":77.2,"v":480},{"t":77.3,"v":760},{"t":77.4,"v":388},{"t":77.5,"v":620},{"t":77.6,"v":700},{"t":77.7,"v":540},{"t":77.8,"v":650},{"t":77.9,"v":450},{"t":78.0,"v":740},{"t":78.1,"v":580},{"t":78.2,"v":797},{"t":78.3,"v":385},{"t":78.4,"v":680},{"t":78.5,"v":520},{"t":78.6,"v":630},{"t":78.7,"v":720},{"t":78.8,"v":470},{"t":78.9,"v":600},{"t":79.0,"v":660},{"t":79.1,"v":383},{"t":79.2,"v":750},{"t":79.3,"v":560},{"t":79.4,"v":690},{"t":79.5,"v":430},{"t":79.6,"v":620},{"t":79.7,"v":770},{"t":79.8,"v":510},{"t":79.9,"v":650},{"t":80.0,"v":380},
{"t":60.15,"v":650},{"t":60.35,"v":590},{"t":60.55,"v":740},{"t":60.75,"v":480},{"t":60.95,"v":620},{"t":61.15,"v":700},{"t":61.35,"v":560},{"t":61.55,"v":650},{"t":61.75,"v":470},{"t":61.95,"v":730},{"t":62.15,"v":610},{"t":62.35,"v":680},{"t":62.55,"v":520},{"t":62.75,"v":760},{"t":62.95,"v":590},{"t":63.15,"v":650},{"t":63.35,"v":460},{"t":63.55,"v":700},{"t":63.75,"v":570},{"t":63.95,"v":620},{"t":64.15,"v":730},{"t":64.35,"v":510},{"t":64.55,"v":680},{"t":64.75,"v":600},{"t":64.95,"v":750},{"t":65.15,"v":460},{"t":65.35,"v":640},{"t":65.55,"v":700},{"t":65.75,"v":560},{"t":65.95,"v":610},{"t":66.15,"v":720},{"t":66.35,"v":500},{"t":66.55,"v":660},{"t":66.75,"v":590},{"t":66.95,"v":700},{"t":67.15,"v":450},{"t":67.35,"v":630},{"t":67.55,"v":760},{"t":67.75,"v":550},{"t":67.95,"v":660},{"t":68.15,"v":600},{"t":68.35,"v":710},{"t":68.55,"v":490},{"t":68.75,"v":640},{"t":68.95,"v":570},{"t":69.15,"v":740},{"t":69.35,"v":450},{"t":69.55,"v":620},{"t":69.75,"v":700},{"t":69.95,"v":520},{"t":70.15,"v":650},{"t":70.35,"v":590},{"t":70.55,"v":720},{"t":70.75,"v":440},{"t":70.95,"v":670},{"t":71.15,"v":550},{"t":71.35,"v":760},{"t":71.55,"v":610},{"t":71.75,"v":480},{"t":71.95,"v":690},{"t":72.15,"v":600},{"t":72.35,"v":730},{"t":72.55,"v":540},{"t":72.75,"v":650},{"t":72.95,"v":440},{"t":73.15,"v":700},{"t":73.35,"v":590},{"t":73.55,"v":660},{"t":73.75,"v":500},{"t":73.95,"v":740},{"t":74.15,"v":620},{"t":74.35,"v":560},{"t":74.55,"v":690},{"t":74.75,"v":430},{"t":74.95,"v":640},{"t":75.15,"v":580},{"t":75.35,"v":750},{"t":75.55,"v":510},{"t":75.75,"v":630},{"t":75.95,"v":690},{"t":76.15,"v":550},{"t":76.35,"v":720},{"t":76.55,"v":430},{"t":76.75,"v":600},{"t":76.95,"v":660},{"t":77.15,"v":520},{"t":77.35,"v":700},{"t":77.55,"v":590},{"t":77.75,"v":740},{"t":77.95,"v":470},{"t":78.15,"v":640},{"t":78.35,"v":560},{"t":78.55,"v":700},{"t":78.75,"v":420},{"t":78.95,"v":610},{"t":79.15,"v":680},{"t":79.35,"v":540},{"t":79.55,"v":730},{"t":79.75,"v":600},{"t":79.95,"v":450},
{"t":80.1,"v":420},{"t":80.1,"v":650},{"t":80.2,"v":560},{"t":80.2,"v":733},{"t":80.3,"v":390},{"t":80.3,"v":610},{"t":80.4,"v":500},{"t":80.4,"v":700},{"t":80.5,"v":450},{"t":80.5,"v":580},{"t":80.6,"v":380},{"t":80.6,"v":680},{"t":80.7,"v":620},{"t":80.7,"v":520},{"t":80.8,"v":470},{"t":80.8,"v":720},{"t":80.9,"v":400},{"t":80.9,"v":560},{"t":81.0,"v":660},{"t":81.0,"v":500},{"t":81.1,"v":590},{"t":81.1,"v":740},{"t":81.2,"v":430},{"t":81.2,"v":640},{"t":81.3,"v":375},{"t":81.3,"v":540},{"t":81.4,"v":700},{"t":81.4,"v":480},{"t":81.5,"v":600},{"t":81.5,"v":410},{"t":81.6,"v":520},{"t":81.6,"v":690},{"t":81.7,"v":650},{"t":81.7,"v":450},{"t":81.8,"v":380},{"t":81.8,"v":750},{"t":81.9,"v":560},{"t":81.9,"v":620},{"t":82.0,"v":480},{"t":82.0,"v":700},{"t":82.1,"v":410},{"t":82.1,"v":590},{"t":82.2,"v":670},{"t":82.2,"v":530},{"t":82.3,"v":375},{"t":82.3,"v":740},{"t":82.4,"v":610},{"t":82.4,"v":460},{"t":82.5,"v":500},{"t":82.5,"v":720},{"t":82.6,"v":430},{"t":82.6,"v":650},{"t":82.7,"v":690},{"t":82.7,"v":560},{"t":82.8,"v":372},{"t":82.8,"v":600},{"t":82.9,"v":520},{"t":82.9,"v":760},{"t":83.0,"v":640},{"t":83.0,"v":450},{"t":83.1,"v":400},{"t":83.1,"v":700},{"t":83.2,"v":580},{"t":83.2,"v":772},{"t":83.3,"v":470},{"t":83.3,"v":660},{"t":83.4,"v":370},{"t":83.4,"v":540},{"t":83.5,"v":720},{"t":83.5,"v":610},{"t":83.6,"v":500},{"t":83.6,"v":430},{"t":83.7,"v":650},{"t":83.7,"v":760},{"t":83.8,"v":560},{"t":83.8,"v":380},{"t":83.9,"v":690},{"t":83.9,"v":470},{"t":84.0,"v":600},{"t":84.0,"v":740},{"t":84.1,"v":420},{"t":84.1,"v":520},{"t":84.2,"v":780},{"t":84.2,"v":660},{"t":84.3,"v":368},{"t":84.3,"v":580},{"t":84.4,"v":710},{"t":84.4,"v":490},{"t":84.5,"v":620},{"t":84.5,"v":788},{"t":84.6,"v":450},{"t":84.6,"v":540},{"t":84.7,"v":680},{"t":84.7,"v":760},{"t":84.8,"v":380},{"t":84.8,"v":600},{"t":84.9,"v":730},{"t":84.9,"v":500},{"t":85.0,"v":560},{"t":85.0,"v":650},{"t":85.1,"v":420},{"t":85.1,"v":772},{"t":85.2,"v":700},{"t":85.2,"v":470},{"t":85.3,"v":610},{"t":85.3,"v":365},{"t":85.4,"v":750},{"t":85.4,"v":530},{"t":85.5,"v":400},{"t":85.5,"v":660},{"t":85.6,"v":580},{"t":85.6,"v":720},{"t":85.7,"v":480},{"t":85.7,"v":760},{"t":85.8,"v":640},{"t":85.8,"v":380},{"t":85.9,"v":700},{"t":85.9,"v":540},{"t":86.0,"v":440},{"t":86.0,"v":610},{"t":86.1,"v":760},{"t":86.1,"v":500},{"t":86.2,"v":570},{"t":86.2,"v":680},{"t":86.3,"v":395},{"t":86.3,"v":720},
{"t":84.25,"v":440},{"t":84.45,"v":690},{"t":84.65,"v":590},{"t":84.85,"v":470},{"t":85.05,"v":740},{"t":85.25,"v":640},{"t":85.45,"v":450},{"t":85.65,"v":620},{"t":85.85,"v":510},{"t":86.05,"v":700},{"t":86.15,"v":410},{"t":86.25,"v":630},{"t":85.15,"v":530},{"t":85.55,"v":760},{"t":85.95,"v":600},
{"t":86.4,"v":375},{"t":86.4,"v":409},{"t":86.4,"v":443},{"t":86.4,"v":477},{"t":86.4,"v":511},{"t":86.4,"v":545},{"t":86.4,"v":579},{"t":86.4,"v":613},{"t":86.4,"v":647},{"t":86.4,"v":681},{"t":86.4,"v":715},{"t":86.4,"v":749},
{"t":86.8,"v":392},{"t":86.8,"v":426},{"t":86.8,"v":460},{"t":86.8,"v":494},{"t":86.8,"v":528},{"t":86.8,"v":562},{"t":86.8,"v":596},{"t":86.8,"v":630},{"t":86.8,"v":664},{"t":86.8,"v":698},{"t":86.8,"v":732},
{"t":87.2,"v":378},{"t":87.2,"v":409},{"t":87.2,"v":445},{"t":87.2,"v":477},{"t":87.2,"v":509},{"t":87.2,"v":545},{"t":87.2,"v":579},{"t":87.2,"v":615},{"t":87.2,"v":647},{"t":87.2,"v":681},{"t":87.2,"v":713},{"t":87.2,"v":751},
{"t":87.6,"v":392},{"t":87.6,"v":428},{"t":87.6,"v":460},{"t":87.6,"v":494},{"t":87.6,"v":526},{"t":87.6,"v":562},{"t":87.6,"v":596},{"t":87.6,"v":630},{"t":87.6,"v":666},{"t":87.6,"v":698},{"t":87.6,"v":732},
{"t":88.0,"v":375},{"t":88.0,"v":409},{"t":88.0,"v":443},{"t":88.0,"v":479},{"t":88.0,"v":511},{"t":88.0,"v":545},{"t":88.0,"v":579},{"t":88.0,"v":613},{"t":88.0,"v":647},{"t":88.0,"v":683},{"t":88.0,"v":715},{"t":88.0,"v":745},
{"t":88.4,"v":394},{"t":88.4,"v":426},{"t":88.4,"v":460},{"t":88.4,"v":494},{"t":88.4,"v":528},{"t":88.4,"v":560},{"t":88.4,"v":596},{"t":88.4,"v":630},{"t":88.4,"v":664},{"t":88.4,"v":698},{"t":88.4,"v":732},
{"t":88.8,"v":375},{"t":88.8,"v":411},{"t":88.8,"v":443},{"t":88.8,"v":477},{"t":88.8,"v":511},{"t":88.8,"v":547},{"t":88.8,"v":579},{"t":88.8,"v":613},{"t":88.8,"v":649},{"t":88.8,"v":681},{"t":88.8,"v":715},
{"t":89.2,"v":392},{"t":89.2,"v":426},{"t":89.2,"v":462},{"t":89.2,"v":494},{"t":89.2,"v":528},{"t":89.2,"v":562},{"t":89.2,"v":594},{"t":89.2,"v":630},{"t":89.2,"v":664},{"t":89.2,"v":698},{"t":89.2,"v":734},
{"t":89.6,"v":377},{"t":89.6,"v":409},{"t":89.6,"v":443},{"t":89.6,"v":477},{"t":89.6,"v":513},{"t":89.6,"v":545},{"t":89.6,"v":579},{"t":89.6,"v":613},{"t":89.6,"v":647},{"t":89.6,"v":681},{"t":89.6,"v":717},
{"t":90.0,"v":392},{"t":90.0,"v":426},{"t":90.0,"v":460},{"t":90.0,"v":496},{"t":90.0,"v":528},{"t":90.0,"v":562},{"t":90.0,"v":596},{"t":90.0,"v":632},{"t":90.0,"v":664},{"t":90.0,"v":698},{"t":90.0,"v":725},
{"t":90.4,"v":375},{"t":90.4,"v":409},{"t":90.4,"v":445},{"t":90.4,"v":477},{"t":90.4,"v":511},{"t":90.4,"v":545},{"t":90.4,"v":581},{"t":90.4,"v":613},{"t":90.4,"v":647},{"t":90.4,"v":681},{"t":90.4,"v":715},
{"t":90.8,"v":392},{"t":90.8,"v":428},{"t":90.8,"v":460},{"t":90.8,"v":494},{"t":90.8,"v":528},{"t":90.8,"v":562},{"t":90.8,"v":598},{"t":90.8,"v":630},{"t":90.8,"v":664},{"t":90.8,"v":698},
{"t":91.2,"v":375},{"t":91.2,"v":409},{"t":91.2,"v":443},{"t":91.2,"v":479},{"t":91.2,"v":511},{"t":91.2,"v":545},{"t":91.2,"v":579},{"t":91.2,"v":613},{"t":91.2,"v":649},{"t":91.2,"v":681},{"t":91.2,"v":710},
{"t":91.6,"v":394},{"t":91.6,"v":426},{"t":91.6,"v":460},{"t":91.6,"v":494},{"t":91.6,"v":530},{"t":91.6,"v":562},{"t":91.6,"v":596},{"t":91.6,"v":630},{"t":91.6,"v":664},{"t":91.6,"v":700},
{"t":92.0,"v":375},{"t":92.0,"v":409},{"t":92.0,"v":443},{"t":92.0,"v":477},{"t":92.0,"v":511},{"t":92.0,"v":547},{"t":92.0,"v":579},{"t":92.0,"v":613},{"t":92.0,"v":647},{"t":92.0,"v":683},
{"t":92.4,"v":392},{"t":92.4,"v":426},{"t":92.4,"v":462},{"t":92.4,"v":494},{"t":92.4,"v":528},{"t":92.4,"v":562},{"t":92.4,"v":596},{"t":92.4,"v":630},{"t":92.4,"v":664},{"t":92.4,"v":690},
{"t":92.8,"v":377},{"t":92.8,"v":409},{"t":92.8,"v":443},{"t":92.8,"v":477},{"t":92.8,"v":511},{"t":92.8,"v":545},{"t":92.8,"v":579},{"t":92.8,"v":615},{"t":92.8,"v":647},{"t":92.8,"v":681},
{"t":93.2,"v":392},{"t":93.2,"v":426},{"t":93.2,"v":460},{"t":93.2,"v":494},{"t":93.2,"v":528},{"t":93.2,"v":564},{"t":93.2,"v":596},{"t":93.2,"v":630},{"t":93.2,"v":664},
{"t":93.6,"v":375},{"t":93.6,"v":409},{"t":93.6,"v":445},{"t":93.6,"v":477},{"t":93.6,"v":511},{"t":93.6,"v":545},{"t":93.6,"v":579},{"t":93.6,"v":613},{"t":93.6,"v":647},{"t":93.6,"v":667},
{"t":94.0,"v":392},{"t":94.0,"v":428},{"t":94.0,"v":460},{"t":94.0,"v":494},{"t":94.0,"v":528},{"t":94.0,"v":562},{"t":94.0,"v":596},{"t":94.0,"v":630},{"t":94.0,"v":660},
{"t":94.4,"v":375},{"t":94.4,"v":409},{"t":94.4,"v":443},{"t":94.4,"v":477},{"t":94.4,"v":513},{"t":94.4,"v":545},{"t":94.4,"v":579},{"t":94.4,"v":613},{"t":94.4,"v":647},
{"t":94.8,"v":392},{"t":94.8,"v":426},{"t":94.8,"v":460},{"t":94.8,"v":494},{"t":94.8,"v":528},{"t":94.8,"v":562},{"t":94.8,"v":596},{"t":94.8,"v":630},{"t":94.8,"v":645},
{"t":95.2,"v":375},{"t":95.2,"v":411},{"t":95.2,"v":443},{"t":95.2,"v":477},{"t":95.2,"v":511},{"t":95.2,"v":545},{"t":95.2,"v":579},{"t":95.2,"v":613},{"t":95.2,"v":634},
{"t":95.6,"v":392},{"t":95.6,"v":426},{"t":95.6,"v":460},{"t":95.6,"v":496},{"t":95.6,"v":528},{"t":95.6,"v":562},{"t":95.6,"v":596},{"t":95.6,"v":625},
{"t":96.0,"v":375},{"t":96.0,"v":409},{"t":96.0,"v":443},{"t":96.0,"v":477},{"t":96.0,"v":511},{"t":96.0,"v":545},{"t":96.0,"v":581},{"t":96.0,"v":613},
{"t":96.4,"v":392},{"t":96.4,"v":426},{"t":96.4,"v":460},{"t":96.4,"v":494},{"t":96.4,"v":528},{"t":96.4,"v":562},{"t":96.4,"v":596},{"t":96.4,"v":606},
{"t":96.8,"v":377},{"t":96.8,"v":409},{"t":96.8,"v":443},{"t":96.8,"v":477},{"t":96.8,"v":511},{"t":96.8,"v":545},{"t":96.8,"v":579},{"t":96.8,"v":595},
{"t":97.2,"v":392},{"t":97.2,"v":426},{"t":97.2,"v":460},{"t":97.2,"v":494},{"t":97.2,"v":528},{"t":97.2,"v":562},{"t":97.2,"v":584},
{"t":97.6,"v":375},{"t":97.6,"v":409},{"t":97.6,"v":443},{"t":97.6,"v":477},{"t":97.6,"v":511},{"t":97.6,"v":545},{"t":97.6,"v":572},
{"t":98.0,"v":392},{"t":98.0,"v":426},{"t":98.0,"v":460},{"t":98.0,"v":494},{"t":98.0,"v":528},{"t":98.0,"v":558},
{"t":98.4,"v":375},{"t":98.4,"v":409},{"t":98.4,"v":443},{"t":98.4,"v":477},{"t":98.4,"v":511},{"t":98.4,"v":543},
{"t":98.8,"v":392},{"t":98.8,"v":426},{"t":98.8,"v":460},{"t":98.8,"v":494},{"t":98.8,"v":526},
{"t":99.2,"v":375},{"t":99.2,"v":409},{"t":99.2,"v":443},{"t":99.2,"v":477},{"t":99.2,"v":509},
{"t":99.6,"v":392},{"t":99.6,"v":426},{"t":99.6,"v":460},{"t":99.6,"v":490},
{"t":100.0,"v":375},{"t":100.0,"v":409},{"t":100.0,"v":443},{"t":100.0,"v":462}
],
"nslp":[{"t":0,"v":1850},{"t":0.05,"v":1680},{"t":0.1,"v":1580},{"t":0.2,"v":1460},{"t":0.35,"v":1360},{"t":0.6,"v":1250},{"t":1,"v":1160},{"t":1.5,"v":1090},{"t":2.5,"v":1005},{"t":3.5,"v":950},{"t":4.6,"v":902},{"t":6,"v":865},{"t":8,"v":825},{"t":10,"v":797},{"t":12.5,"v":760},{"t":15,"v":725},{"t":17.5,"v":695},{"t":20,"v":667},{"t":25,"v":620},{"t":30,"v":583},{"t":35,"v":550},{"t":40,"v":522},{"t":45,"v":492},{"t":50,"v":468},{"t":55,"v":450},{"t":60,"v":435},{"t":65,"v":420},{"t":70,"v":405},{"t":75,"v":393},{"t":80,"v":380},{"t":83,"v":370},{"t":85,"v":358},{"t":87,"v":335},{"t":89,"v":315},{"t":90,"v":303},{"t":91,"v":288},{"t":92.4,"v":269},{"t":94,"v":238},{"t":95,"v":215},{"t":96,"v":185},{"t":97,"v":155},{"t":98,"v":118},{"t":99,"v":72},{"t":99.5,"v":45},{"t":100,"v":8}],
"avg":[{"t":0,"v":1940},{"t":0.05,"v":1800},{"t":0.1,"v":1700},{"t":0.2,"v":1570},{"t":0.35,"v":1460},{"t":0.6,"v":1340},{"t":1,"v":1250},{"t":1.5,"v":1180},{"t":2.5,"v":1100},{"t":3.5,"v":1040},{"t":4.6,"v":988},{"t":6,"v":955},{"t":8,"v":915},{"t":10,"v":885},{"t":12.5,"v":848},{"t":15,"v":815},{"t":17.5,"v":788},{"t":20,"v":764},{"t":25,"v":720},{"t":30,"v":680},{"t":35,"v":648},{"t":40,"v":620},{"t":45,"v":597},{"t":50,"v":576},{"t":55,"v":555},{"t":60,"v":536},{"t":65,"v":520},{"t":70,"v":508},{"t":75,"v":495},{"t":80,"v":478},{"t":83,"v":468},{"t":85,"v":455},{"t":87,"v":440},{"t":89,"v":418},{"t":90,"v":405},{"t":91,"v":390},{"t":92.4,"v":365},{"t":94,"v":330},{"t":95,"v":305},{"t":96,"v":278},{"t":97,"v":245},{"t":98,"v":205},{"t":99,"v":158},{"t":99.5,"v":125},{"t":100,"v":77}]
},
"layer":[
{"data":{"name":"pts"},"mark":{"type":"point","shape":"diamond","filled":true,"opacity":1,"size":68},
 "encoding":{
  "x":{"field":"t","type":"quantitative","scale":{"domain":[0,100],"nice":false,"zero":false},
   "axis":{"values":[0,10,20,30,40,50,60,70,80,90,100],"labelExpr":"datum.value + '%'","labelAngle":-90,"ticks":false,"tickSize":0,"labelPadding":13,"title":"% of time","titleFontWeight":"bold","titlePadding":12}},
  "y":{"field":"v","type":"quantitative","scale":{"domain":[0,2500],"nice":false},
   "axis":{"values":[0,500,1000,1500,2000,2500],"format":"d","tickSize":7,"labelPadding":13,"title":"MW","titleFontWeight":"normal","titlePadding":6}},
  "color":{"datum":"Fitted value of NSLP plus solar","type":"nominal",
   "scale":{"domain":["Fitted value of NSLP plus solar","Fitted value of NSLP","Fitted NSLP plus average solar"],"range":["#FFA833","#9050A0","#A3A3A3"]},
   "legend":{"orient":"none","legendX":-45,"legendY":643,"direction":"horizontal","title":null,"symbolSize":3025,"symbolStrokeWidth":5,"labelOffset":19,"columnPadding":19,"labelFontSize":21.5,"labelColor":"#000","labelFont":"Liberation Sans","labelLimit":1000,"symbolOpacity":1,
    "encode":{"symbols":{"update":{
     "shape":{"signal":"datum.value === 'Fitted value of NSLP plus solar' ? 'diamond' : 'stroke'"},
     "size":{"signal":"datum.value === 'Fitted value of NSLP plus solar' ? 45 : 3025"},
     "strokeWidth":{"signal":"datum.value === 'Fitted value of NSLP plus solar' ? 0 : 5"},
     "fill":{"scale":"color","field":"value"},
     "stroke":{"scale":"color","field":"value"},
     "opacity":{"value":1}}}}}}}},
{"data":{"name":"nslp"},"mark":{"type":"line","strokeWidth":5,"interpolate":"monotone"},
 "encoding":{"x":{"field":"t","type":"quantitative"},"y":{"field":"v","type":"quantitative"},"color":{"datum":"Fitted value of NSLP","type":"nominal"}}},
{"data":{"name":"avg"},"mark":{"type":"line","strokeWidth":5,"interpolate":"monotone"},
 "encoding":{"x":{"field":"t","type":"quantitative"},"y":{"field":"v","type":"quantitative"},"color":{"datum":"Fitted NSLP plus average solar","type":"nominal"}}}
]
}
